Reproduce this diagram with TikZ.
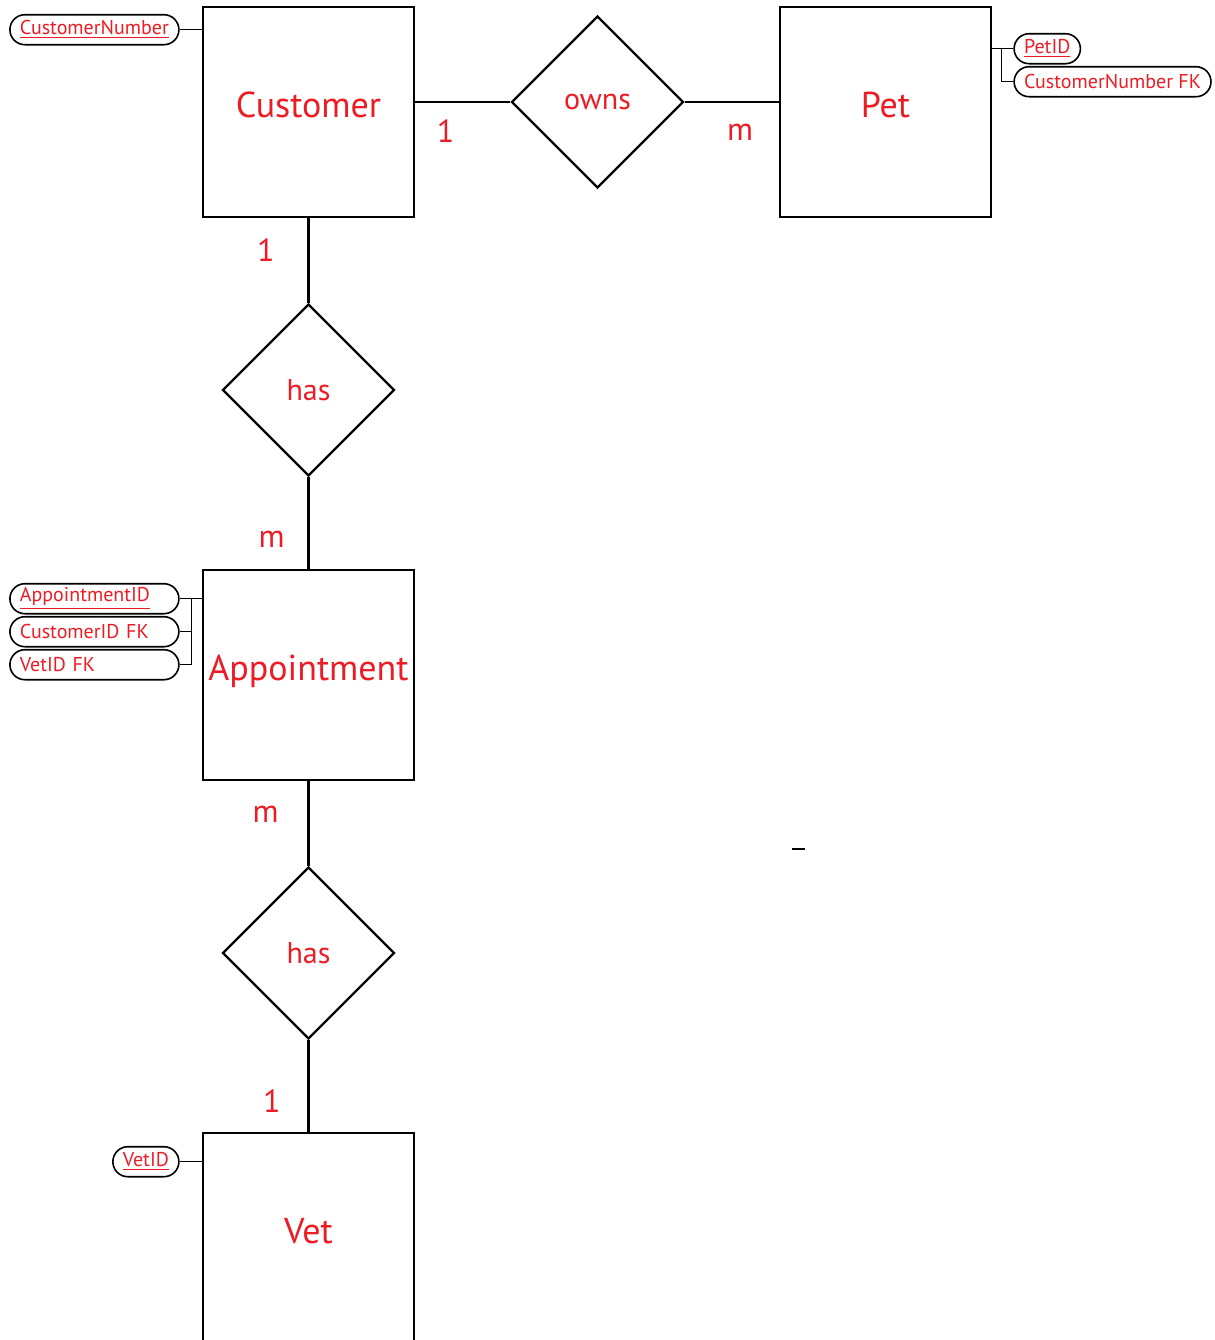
\documentclass[tikz,border=0pt]{standalone}
\usepackage{fontspec}
\setmainfont{PT Sans}
\usetikzlibrary{shapes.geometric,positioning}
\definecolor{entred}{RGB}{237,28,36}
\tikzset{
  entity/.style={draw, line width=1.3pt, minimum width=105.5pt, minimum height=105pt, inner sep=0pt, text height=12.5pt, text depth=7pt, text=entred, font=\fontsize{18}{20}\selectfont},
  relation/.style={draw, diamond, aspect=1, line width=1.2pt, minimum width=86pt, minimum height=86pt, inner sep=0pt, text=entred, font=\fontsize{15}{18}\selectfont},
  attr/.style={draw, line width=0.8pt, rounded corners=7.5pt, minimum height=15pt, inner xsep=5pt, inner ysep=0pt, text=entred, font=\fontsize{10}{12}\selectfont},
  attrbox/.style={attr, text width=#1, align=left},
  card/.style={text=entred, font=\fontsize{16}{18}\selectfont},
  link/.style={line width=1.2pt},
  attrlink/.style={line width=0.5pt}
}
\begin{document}
\begin{tikzpicture}[x=0.5pt,y=-0.5pt,node distance=144.5pt,on grid]
\useasboundingbox (0,0) rectangle (1215,1340);
\clip (0,0) rectangle (1215,1340);
% entities and relationships
\node[entity] (Customer) at (308.5,112) {Customer};
\node[relation, yshift=5pt] (owns) [right=of Customer] {owns};
\node[entity] (Pet) [right=144pt of owns, yshift=-5pt] {Pet};
\node[relation] (has1) [below=139pt of Customer] {has};
\node[entity] (Appointment) [below=142.5pt of has1] {Appointment};
\node[relation] (has2) [below=139pt of Appointment] {has};
\node[entity] (Vet) [below=142.5pt of has2] {Vet};
% connectors with cardinalities
\draw[link] (Customer.east |- owns.west) -- node[card, pos=0.32, below=5pt] {1} (owns.west);
\draw[link] (owns.east) -- node[card, pos=0.59, below=7pt] {m} (owns.east -| Pet.west);
\draw[link] (Customer) -- node[card, pos=0.38, left=13pt] {1} (has1);
\draw[link] (has1) -- node[card, pos=0.68, left=8pt] {m} (Appointment);
\draw[link] (Appointment) -- node[card, pos=0.39, left=11pt] {m} (has2);
\draw[link] (has2) -- node[card, pos=0.67, left=10pt] {1} (Vet);
% attributes
\node[attr, anchor=east] (custnum) at ([xshift=-11pt, yshift=-12pt]Customer.north west) {\underline{CustomerNumber}};
\draw[attrlink] (custnum.east) -- (custnum.east -| Customer.west);
\node[attr, anchor=west] (petid) at ([xshift=10.5pt, yshift=-21.5pt]Pet.north east) {\underline{PetID}};
\node[attr, anchor=west] (custnumfk) at ([yshift=-16.5pt]petid.west) {CustomerNumber FK};
\draw[attrlink] (petid.west) -- (petid.west -| Pet.east);
\draw[attrlink] ([xshift=-6pt]petid.west) |- (custnumfk.west);
\node[attrbox=74.5pt, anchor=east] (apptid) at ([xshift=-11pt, yshift=-15pt]Appointment.north west) {\underline{AppointmentID}};
\node[attrbox=74.5pt, anchor=east] (custidfk) at ([yshift=-16.5pt]apptid.east) {CustomerID FK};
\node[attrbox=74.5pt, anchor=east] (vetidfk) at ([yshift=-16.5pt]custidfk.east) {VetID FK};
\draw[attrlink] (apptid.east) -- (apptid.east -| Appointment.west);
\draw[attrlink] ([xshift=6pt]apptid.east) |- (custidfk.east);
\draw[attrlink] ([xshift=6pt]apptid.east) |- (vetidfk.east);
\node[attr, anchor=east] (vetid) at ([xshift=-11pt, yshift=-15pt]Vet.north west) {\underline{VetID}};
\draw[attrlink] (vetid.east) -- (vetid.east -| Vet.west);
% stray mark
\draw[line width=0.7pt] (792,849) -- (805,849);
\end{tikzpicture}
\end{document}
